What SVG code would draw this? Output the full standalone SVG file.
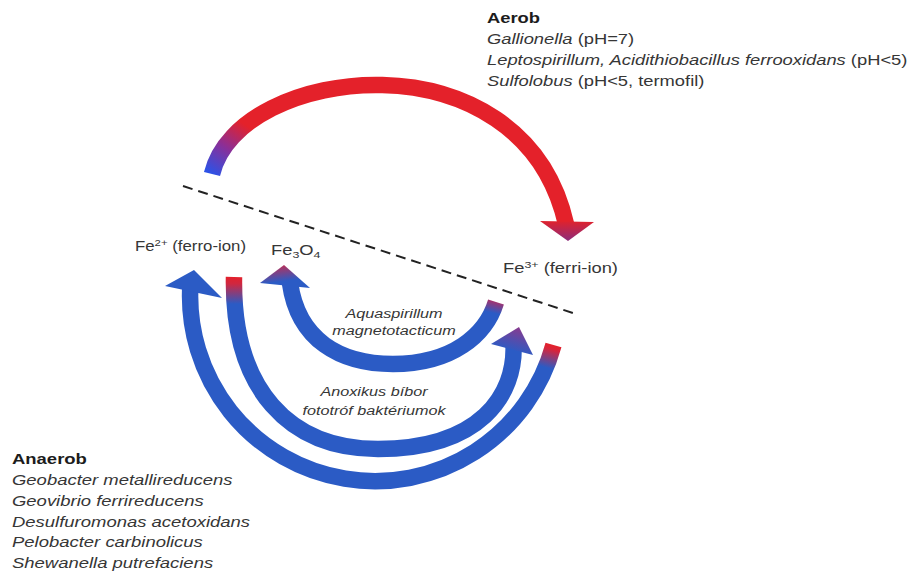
<svg xmlns="http://www.w3.org/2000/svg" width="915" height="572" viewBox="0 0 915 572">
<defs>
<style>
.t{font-family:"Liberation Sans",Arial,Helvetica,sans-serif;font-size:14px;fill:#363636}
.b{font-weight:bold;fill:#1c1c1c}
.i{font-style:italic}
.lab{font-size:13.5px;font-style:italic;text-anchor:middle}
.sup{font-size:9.5px}
.arc{fill:none;stroke-width:16.5;stroke-linecap:butt}
.dash{fill:none;stroke:#222;stroke-width:2;stroke-dasharray:10 6}
</style>
<linearGradient id="gRedArc" gradientUnits="userSpaceOnUse" x1="212" y1="174" x2="244" y2="124">
<stop offset="0" stop-color="#2d52e6"/><stop offset="0.5" stop-color="#8a2f98"/><stop offset="1" stop-color="#e4212a"/>
</linearGradient>
<linearGradient id="gRedHead" gradientUnits="userSpaceOnUse" x1="0" y1="221" x2="0" y2="241">
<stop offset="0" stop-color="#e0222c"/><stop offset="1" stop-color="#8c2c7c"/>
</linearGradient>
<linearGradient id="gOuter" gradientUnits="userSpaceOnUse" x1="553.5" y1="345" x2="547.5" y2="368">
<stop offset="0" stop-color="#e3212b"/><stop offset="0.2" stop-color="#d8243a"/><stop offset="1" stop-color="#2b5bc5"/>
</linearGradient>
<linearGradient id="gMid" gradientUnits="userSpaceOnUse" x1="0" y1="277" x2="0" y2="304">
<stop offset="0" stop-color="#e3212b"/><stop offset="0.25" stop-color="#d02740"/><stop offset="1" stop-color="#2b5bc5"/>
</linearGradient>
<linearGradient id="gInner" gradientUnits="userSpaceOnUse" x1="496" y1="300" x2="493" y2="313">
<stop offset="0" stop-color="#b52d62"/><stop offset="1" stop-color="#2b5bc5"/>
</linearGradient>
<linearGradient id="gMidHead" gradientUnits="userSpaceOnUse" x1="519" y1="327" x2="512" y2="352">
<stop offset="0" stop-color="#8a3a8e"/><stop offset="0.6" stop-color="#4e4fb0"/><stop offset="1" stop-color="#2b5bc5"/>
</linearGradient>
<linearGradient id="gInnerHead" gradientUnits="userSpaceOnUse" x1="284" y1="265" x2="286" y2="281">
<stop offset="0" stop-color="#b8305a"/><stop offset="1" stop-color="#2b5bc5"/>
</linearGradient>
</defs>
<rect width="915" height="572" fill="#fff"/>

<path class="dash" d="M183,186 L576,314"/>

<g id="connectors">
<g id="aerob-oxidation">
<path class="arc" stroke="url(#gRedArc)" d="M212,174 C238,64 522,30 566,224"/>
<polygon points="540,221 594,222 568,241" fill="url(#gRedHead)"/>
</g>
<g id="anaerob-reduction">
<path class="arc" stroke="url(#gOuter)" d="M553.5,345 A185,185 0 0 1 190.4,285"/>
<polygon points="165,286 194,270 222,298" fill="#2b5bc5"/>
</g>
<g id="phototroph-oxidation">
<path class="arc" stroke="url(#gMid)" d="M234,277 C232,390 290,449 378,449 C480,449 516,395 513.5,344"/>
<polygon points="491,344 519,327 533,355" fill="url(#gMidHead)"/>
</g>
<g id="magnetite-formation">
<path class="arc" stroke="url(#gInner)" d="M290,283 C298,340 340,364 393,364 C452,364 486,335 496,302"/>
<polygon points="260,283 284,265 310,288" fill="url(#gInnerHead)"/>
</g>
</g>

<g id="aerob">
<text class="t b" transform="translate(487,23) scale(1.31,1)">Aerob</text>
<text class="t" transform="translate(487,44) scale(1.31,1)"><tspan class="i">Gallionella</tspan> (pH=7)</text>
<text class="t" transform="translate(487,65) scale(1.31,1)"><tspan class="i">Leptospirillum, Acidithiobacillus ferrooxidans</tspan> (pH&lt;5)</text>
<text class="t" transform="translate(487,86) scale(1.31,1)"><tspan class="i">Sulfolobus</tspan> (pH&lt;5, termofil)</text>
</g>

<g id="anaerob">
<text class="t b" transform="translate(12,464) scale(1.32,1)">Anaerob</text>
<text class="t i" transform="translate(12,485) scale(1.32,1)">Geobacter metallireducens</text>
<text class="t i" transform="translate(12,506) scale(1.32,1)">Geovibrio ferrireducens</text>
<text class="t i" transform="translate(12,527) scale(1.32,1)">Desulfuromonas acetoxidans</text>
<text class="t i" transform="translate(12,547) scale(1.32,1)">Pelobacter carbinolicus</text>
<text class="t i" transform="translate(12,568) scale(1.32,1)">Shewanella putrefaciens</text>
</g>

<g id="fe2">
<text class="t" transform="translate(135,251) scale(1.2,1)">Fe<tspan class="sup" dy="-5">2+</tspan><tspan dy="5"> (ferro-ion)</tspan></text>
</g>
<g id="fe3o4">
<text class="t" transform="translate(271,255) scale(1.31,1)">Fe<tspan class="sup" dy="3">3</tspan><tspan dy="-3">O</tspan><tspan class="sup" dy="3">4</tspan></text>
</g>
<g id="fe3">
<text class="t" transform="translate(503,273) scale(1.31,1)">Fe<tspan class="sup" dy="-5">3+</tspan><tspan dy="5"> (ferri-ion)</tspan></text>
</g>

<g id="label-aquaspirillum">
<text class="t lab" transform="translate(394,318) scale(1.2,1)">Aquaspirillum</text>
<text class="t lab" transform="translate(394,335) scale(1.2,1)">magnetotacticum</text>
</g>
<g id="label-anoxikus">
<text class="t lab" transform="translate(374,396) scale(1.2,1)">Anoxikus bíbor</text>
<text class="t lab" transform="translate(374,415) scale(1.2,1)">fototróf baktériumok</text>
</g>
</svg>
